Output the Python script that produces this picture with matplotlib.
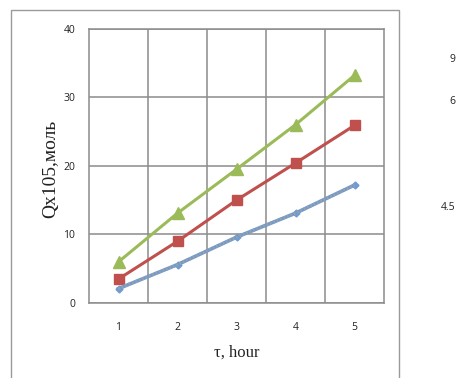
import matplotlib
matplotlib.use("Agg")
import matplotlib.pyplot as plt
from matplotlib.patches import Rectangle

hours = [1, 2, 3, 4, 5]
series_green = [6.0, 13.1, 19.5, 26.0, 33.2]
series_red = [3.5, 9.0, 15.0, 20.4, 25.9]
series_blue = [2.1, 5.6, 9.6, 13.1, 17.2]
y_ticks = [0, 10, 20, 30, 40]
side_labels = ["9", "6", "4.5"]

W, H = 457, 378
fig = plt.figure(figsize=(W / 100, H / 100), dpi=100)
fig.patch.set_facecolor("white")

# outer frame
fig.add_artist(Rectangle((11 / W, -0.05), (399 - 11) / W, 1.05 - 10 / H,
                         transform=fig.transFigure, fill=False,
                         edgecolor="#9a9a9a", linewidth=1.0))

ax = fig.add_axes([89 / W, 1 - 303 / H, (384 - 89) / W, (303 - 28.7) / H])
ax.set_xlim(0.5, 5.5)
ax.set_ylim(0, 40)
ax.set_xticks(hours)
ax.set_xticks([1.5, 2.5, 3.5, 4.5], minor=True)
ax.set_yticks(y_ticks)
ax.grid(True, which="minor", axis="x", color="#8c8c8c", linewidth=1.1)
ax.grid(True, which="major", axis="y", color="#8c8c8c", linewidth=1.1)
ax.tick_params(which="both", length=0)
ax.tick_params(axis="y", pad=10)
ax.tick_params(axis="x", pad=14)
for s in ax.spines.values():
    s.set_color("#8c8c8c")
    s.set_linewidth(1.1)
for lab in ax.get_xticklabels() + ax.get_yticklabels():
    lab.set_fontfamily("Open Sans")
    lab.set_fontsize(7.5)
    lab.set_color("#222222")

ax.plot(hours, series_green, color="#9bbb59", linewidth=2.2, marker="^",
        markersize=8, zorder=3)
ax.plot(hours, series_red, color="#c0504d", linewidth=2.2, marker="s",
        markersize=6.5, zorder=3)
ax.plot(hours, series_blue, color="#6e9bd2", linewidth=2.6, marker="D",
        markersize=3.5, zorder=3)
ax.plot(hours, series_blue, color="#a0a0a0", linewidth=2.2,
        linestyle=(0, (0.5, 0.7)), zorder=4)

ax.set_xlabel("τ, hour", fontfamily="Liberation Serif", fontsize=12,
              labelpad=8, color="#222222")

fig.text(51 / W, 1 - 169 / H, "Qx105,моль", rotation=90,
         ha="center", va="center", fontfamily="Liberation Serif",
         fontsize=14, color="#222222")

# partially visible labels on the right side
pos = [(449, 60), (449, 102), (441, 208)]
for (x, y), t in zip(pos, side_labels):
    fig.text(x / W, 1 - y / H, t, fontsize=7.5, fontfamily="Open Sans",
             ha="left", va="center", color="#222222")

fig.savefig("out.png", dpi=100)
